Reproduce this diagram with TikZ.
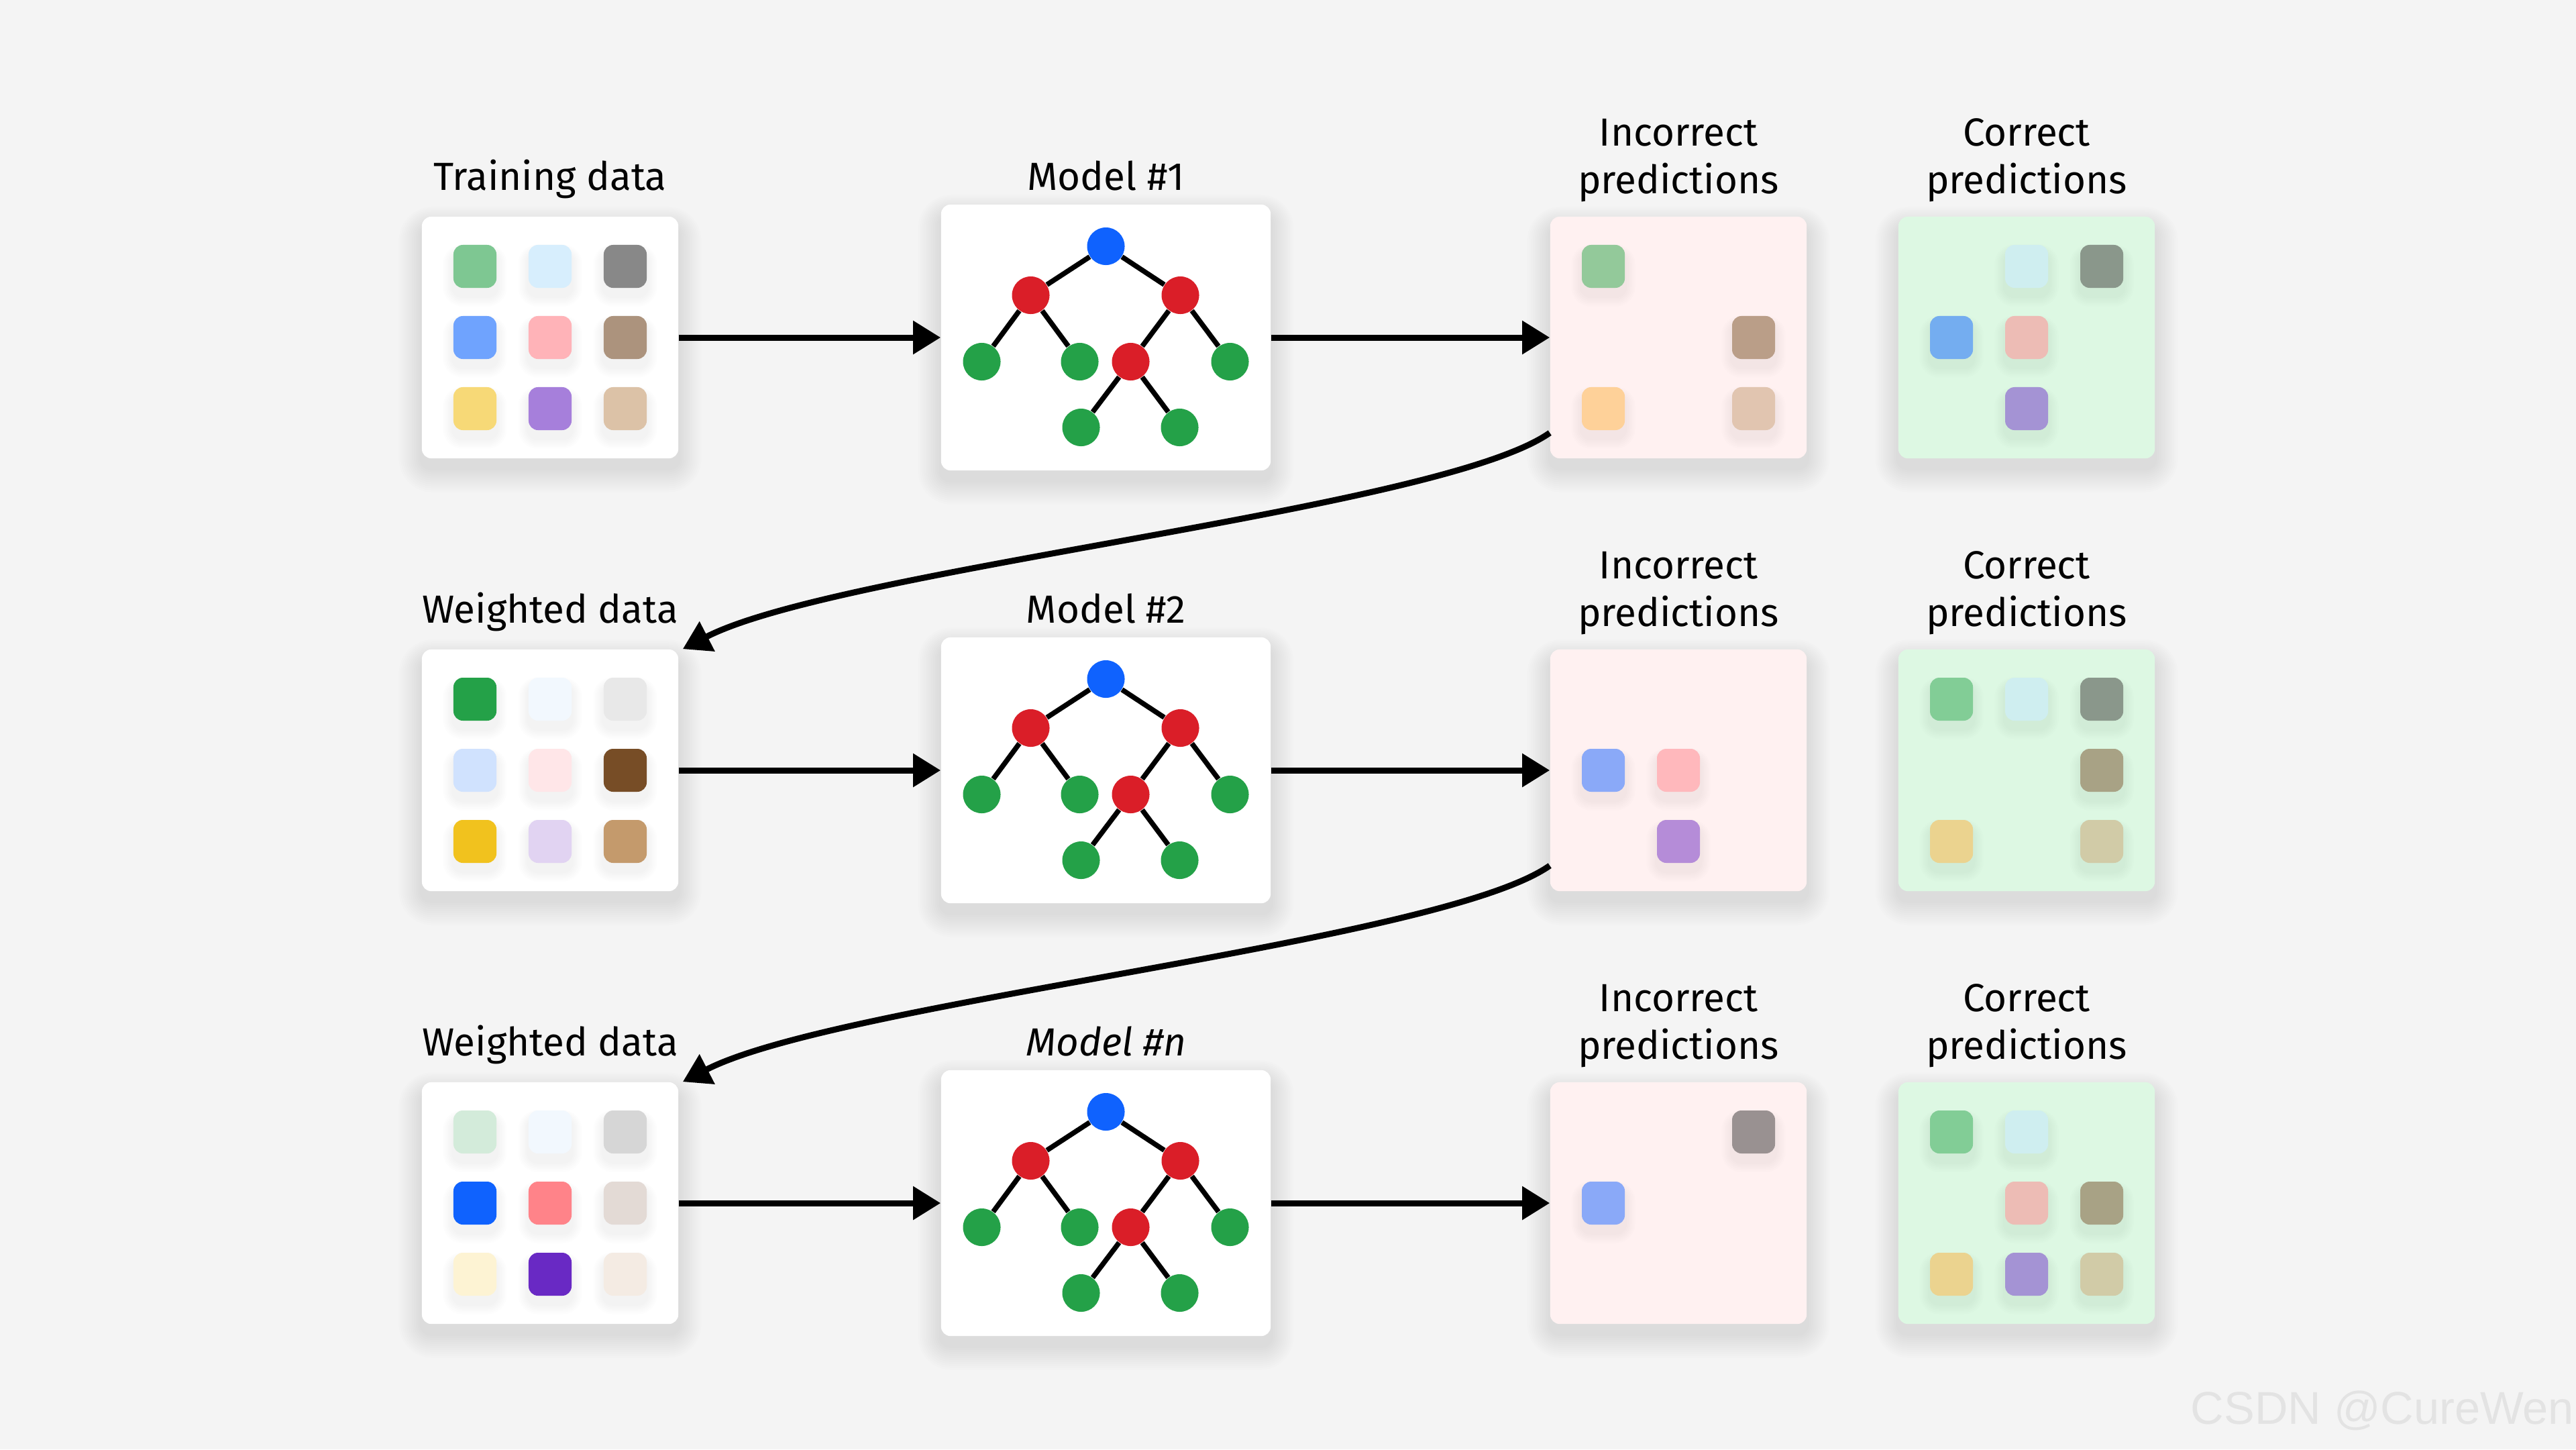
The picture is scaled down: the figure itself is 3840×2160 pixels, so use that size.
\documentclass[tikz,border=0pt]{standalone}
\usepackage{fontspec}
\setmainfont{Fira Sans}
\newfontfamily\wmfont{Liberation Sans}
\usetikzlibrary{arrows.meta,calc}
\pgfdeclarelayer{bgl}\pgfdeclarelayer{bsh}\pgfdeclarelayer{boxl}\pgfdeclarelayer{sqsh}
\pgfsetlayers{bgl,bsh,boxl,sqsh,main}

\definecolor{bgc}{HTML}{F4F4F4}
\definecolor{incfill}{HTML}{FFF1F1}
\definecolor{corfill}{HTML}{DDF8E3}
\definecolor{tblue}{HTML}{0F62FE}
\definecolor{tred}{HTML}{DA1E28}
\definecolor{tgreen}{HTML}{24A148}
\definecolor{wmgray}{HTML}{E3E3E3}
% square colours
\definecolor{x7EC792}{HTML}{7EC792}\definecolor{xD7EEFD}{HTML}{D7EEFD}\definecolor{x888888}{HTML}{888888}
\definecolor{x6FA3FE}{HTML}{6FA3FE}\definecolor{xFFB3B8}{HTML}{FFB3B8}\definecolor{xAC937D}{HTML}{AC937D}
\definecolor{xF7D977}{HTML}{F7D977}\definecolor{xA67FDB}{HTML}{A67FDB}\definecolor{xDCC2A7}{HTML}{DCC2A7}
\definecolor{x93C99A}{HTML}{93C99A}\definecolor{xBA9E88}{HTML}{BA9E88}\definecolor{xFED199}{HTML}{FED199}
\definecolor{xE1C5B0}{HTML}{E1C5B0}\definecolor{xCFEEF0}{HTML}{CFEEF0}\definecolor{x8A978B}{HTML}{8A978B}
\definecolor{x74ADF0}{HTML}{74ADF0}\definecolor{xEDBCB5}{HTML}{EDBCB5}\definecolor{xA493D4}{HTML}{A493D4}
\definecolor{x24A148}{HTML}{24A148}\definecolor{xF2F8FE}{HTML}{F2F8FE}\definecolor{xE8E8E8}{HTML}{E8E8E8}
\definecolor{xD0E2FE}{HTML}{D0E2FE}\definecolor{xFFE6E8}{HTML}{FFE6E8}\definecolor{x774D26}{HTML}{774D26}
\definecolor{xF1C21E}{HTML}{F1C21E}\definecolor{xE1D3F2}{HTML}{E1D3F2}\definecolor{xC49A6C}{HTML}{C49A6C}
\definecolor{x8AA9F8}{HTML}{8AA9F8}\definecolor{xFFB8BC}{HTML}{FFB8BC}\definecolor{xB58CD8}{HTML}{B58CD8}
\definecolor{x82CD96}{HTML}{82CD96}\definecolor{xA8A285}{HTML}{A8A285}\definecolor{xEBD38F}{HTML}{EBD38F}
\definecolor{xD1CBA7}{HTML}{D1CBA7}\definecolor{xD3EBDA}{HTML}{D3EBDA}\definecolor{xD6D6D6}{HTML}{D6D6D6}
\definecolor{x0F62FE}{HTML}{0F62FE}\definecolor{xFF8389}{HTML}{FF8389}\definecolor{xE3DAD5}{HTML}{E3DAD5}
\definecolor{xFDF3D3}{HTML}{FDF3D3}\definecolor{x6929C4}{HTML}{6929C4}\definecolor{xF4EBE3}{HTML}{F4EBE3}
\definecolor{x999191}{HTML}{999191}

\tikzset{
  card/.style={rectangle, rounded corners=0.14cm, inner sep=0pt, draw=none},
  databox/.style={card, fill=white, minimum width=3.82cm, minimum height=3.60cm},
  modelbox/.style={card, fill=white, minimum width=4.91cm, minimum height=3.96cm},
  incbox/.style={card, fill=incfill, minimum width=3.82cm, minimum height=3.60cm},
  corbox/.style={card, fill=corfill, minimum width=3.82cm, minimum height=3.60cm},
  sq/.style={rectangle, rounded corners=0.14cm, minimum size=0.64cm, inner sep=0pt, draw=none},
  tnode/.style={circle, minimum size=0.56cm, inner sep=0pt, draw=none},
  tedge/.style={line width=0.075cm, black},
  arr/.style={line width=0.09cm, black, -{Triangle[length=0.41cm, width=0.48cm]}},
  ttl/.style={anchor=south, inner sep=0pt, text depth=0pt, align=center,
              font=\fontsize{16.6}{20.2}\selectfont},
}

\newcommand\cardshadow[1]{%
  \begin{pgfonlayer}{bsh}
  \foreach \k in {1,...,12}{
    \fill[black, opacity=0.009, rounded corners=0.14cm+\k*0.03cm]
      ([xshift=-\k*0.028cm, yshift=-0.14cm-\k*0.03cm]#1.south west) rectangle
      ([xshift=\k*0.028cm, yshift=-0.16cm+\k*0.025cm]#1.north east);
  }
  \end{pgfonlayer}}

\newcommand\cells[2]{%
  \foreach \rr/\cc/\cl in {#2}{
    \node[sq, fill=\cl] (#1-\rr\cc) at ($(#1.center)+({(\cc-2)*112},{(\rr-2)*106})$) {};
    \begin{pgfonlayer}{sqsh}
    \foreach \k in {1,...,6}{
      \fill[black, opacity=0.009, rounded corners=0.14cm+\k*0.025cm]
        ([xshift=-\k*0.025cm, yshift=-0.12cm-\k*0.025cm]#1-\rr\cc.south west) rectangle
        ([xshift=\k*0.025cm, yshift=-0.12cm+\k*0.02cm]#1-\rr\cc.north east);
    }
    \end{pgfonlayer}
  }}

\newcommand\treein[1]{%
  \node[tnode, fill=tblue]  (#1-a) at ($(#1.center)+(0,-136)$) {};
  \node[tnode, fill=tred]   (#1-b) at ($(#1.center)+(-112,-63)$) {};
  \node[tnode, fill=tred]   (#1-c) at ($(#1.center)+(111,-63)$) {};
  \node[tnode, fill=tgreen] (#1-d) at ($(#1.center)+(-185,36)$) {};
  \node[tnode, fill=tgreen] (#1-e) at ($(#1.center)+(-39,36)$) {};
  \node[tnode, fill=tred]   (#1-f) at ($(#1.center)+(37,36)$) {};
  \node[tnode, fill=tgreen] (#1-g) at ($(#1.center)+(185,36)$) {};
  \node[tnode, fill=tgreen] (#1-h) at ($(#1.center)+(-37,134)$) {};
  \node[tnode, fill=tgreen] (#1-i) at ($(#1.center)+(110,134)$) {};
  \draw[tedge] (#1-a)--(#1-b) (#1-a)--(#1-c) (#1-b)--(#1-d) (#1-b)--(#1-e)
               (#1-c)--(#1-f) (#1-c)--(#1-g) (#1-f)--(#1-h) (#1-f)--(#1-i);
}

\begin{document}
\begin{tikzpicture}[x=0.01cm, y=-0.01cm]
\begin{pgfonlayer}{bgl}
\fill[bgc] (0,0) rectangle (3840,2160);
\end{pgfonlayer}
\useasboundingbox (0,0) rectangle (3840,2160);

% ---- cards
\begin{pgfonlayer}{boxl}
\node[databox]  (d1) at (820,503) {};
\node[modelbox] (m1) at (1648.5,503) {};
\node[incbox]   (i1) at (2502,503) {};
\node[corbox]   (c1) at (3021,503) {};
\node[databox]  (d2) at (820,1148) {};
\node[modelbox] (m2) at (1648.5,1148) {};
\node[incbox]   (i2) at (2502,1148) {};
\node[corbox]   (c2) at (3021,1148) {};
\node[databox]  (d3) at (820,1793) {};
\node[modelbox] (m3) at (1648.5,1793) {};
\node[incbox]   (i3) at (2502,1793) {};
\node[corbox]   (c3) at (3021,1793) {};
\end{pgfonlayer}
\foreach \n in {d1,m1,i1,c1,d2,m2,i2,c2,d3,m3,i3,c3}{\cardshadow{\n}}

% ---- titles
\node[ttl] (td1) at (820,284) {Training data};
\node[ttl] (tm1) at (1648.5,284) {Model \#1};
\node[ttl] (ti1) at (2502,289) {Incorrect\\predictions};
\node[ttl] (tc1) at (3021,289) {Correct\\predictions};
\node[ttl] (td2) at (820,929) {Weighted data};
\node[ttl] (tm2) at (1648.5,929) {Model \#2};
\node[ttl] (ti2) at (2502,934) {Incorrect\\predictions};
\node[ttl] (tc2) at (3021,934) {Correct\\predictions};
\node[ttl] (td3) at (820,1574) {Weighted data};
\node[ttl] (tm3) at (1648.5,1574) {\itshape Model \#n};
\node[ttl] (ti3) at (2502,1579) {Incorrect\\predictions};
\node[ttl] (tc3) at (3021,1579) {Correct\\predictions};

% ---- data squares
\cells{d1}{1/1/x7EC792,1/2/xD7EEFD,1/3/x888888,2/1/x6FA3FE,2/2/xFFB3B8,2/3/xAC937D,3/1/xF7D977,3/2/xA67FDB,3/3/xDCC2A7}
\cells{i1}{1/1/x93C99A,2/3/xBA9E88,3/1/xFED199,3/3/xE1C5B0}
\cells{c1}{1/2/xCFEEF0,1/3/x8A978B,2/1/x74ADF0,2/2/xEDBCB5,3/2/xA493D4}
\cells{d2}{1/1/x24A148,1/2/xF2F8FE,1/3/xE8E8E8,2/1/xD0E2FE,2/2/xFFE6E8,2/3/x774D26,3/1/xF1C21E,3/2/xE1D3F2,3/3/xC49A6C}
\cells{i2}{2/1/x8AA9F8,2/2/xFFB8BC,3/2/xB58CD8}
\cells{c2}{1/1/x82CD96,1/2/xCFEEF0,1/3/x8A978B,2/3/xA8A285,3/1/xEBD38F,3/3/xD1CBA7}
\cells{d3}{1/1/xD3EBDA,1/2/xF2F8FE,1/3/xD6D6D6,2/1/x0F62FE,2/2/xFF8389,2/3/xE3DAD5,3/1/xFDF3D3,3/2/x6929C4,3/3/xF4EBE3}
\cells{i3}{1/3/x999191,2/1/x8AA9F8}
\cells{c3}{1/1/x82CD96,1/2/xCFEEF0,2/2/xEDBCB5,2/3/xA8A285,3/1/xEBD38F,3/2/xA493D4,3/3/xD1CBA7}

% ---- trees
\treein{m1}
\treein{m2}
\treein{m3}

% ---- arrows
\draw[arr] (d1.east) -- (m1.west);
\draw[arr] (m1.east) -- (i1.west);
\draw[arr] (d2.east) -- (m2.west);
\draw[arr] (m2.east) -- (i2.west);
\draw[arr] (d3.east) -- (m3.west);
\draw[arr] (m3.east) -- (i3.west);

\coordinate (k1s) at ([yshift=-1.42cm]i1.west);
\coordinate (k1e) at ([xshift=0.06cm]d2.north east);
\coordinate (k2s) at ([yshift=-1.42cm]i2.west);
\coordinate (k2e) at ([xshift=0.06cm]d3.north east);
\draw[arr] (k1s) .. controls +(-163,115) and +(233,-120) .. (k1e);
\draw[arr] (k2s) .. controls +(-163,115) and +(233,-120) .. (k2e);

% ---- watermark
\node[anchor=base west, inner sep=0pt, text=wmgray, font=\wmfont\fontsize{19.5}{22}\selectfont] (wm) at (3265,2122) {CSDN @CureWen};
\end{tikzpicture}
\end{document}
